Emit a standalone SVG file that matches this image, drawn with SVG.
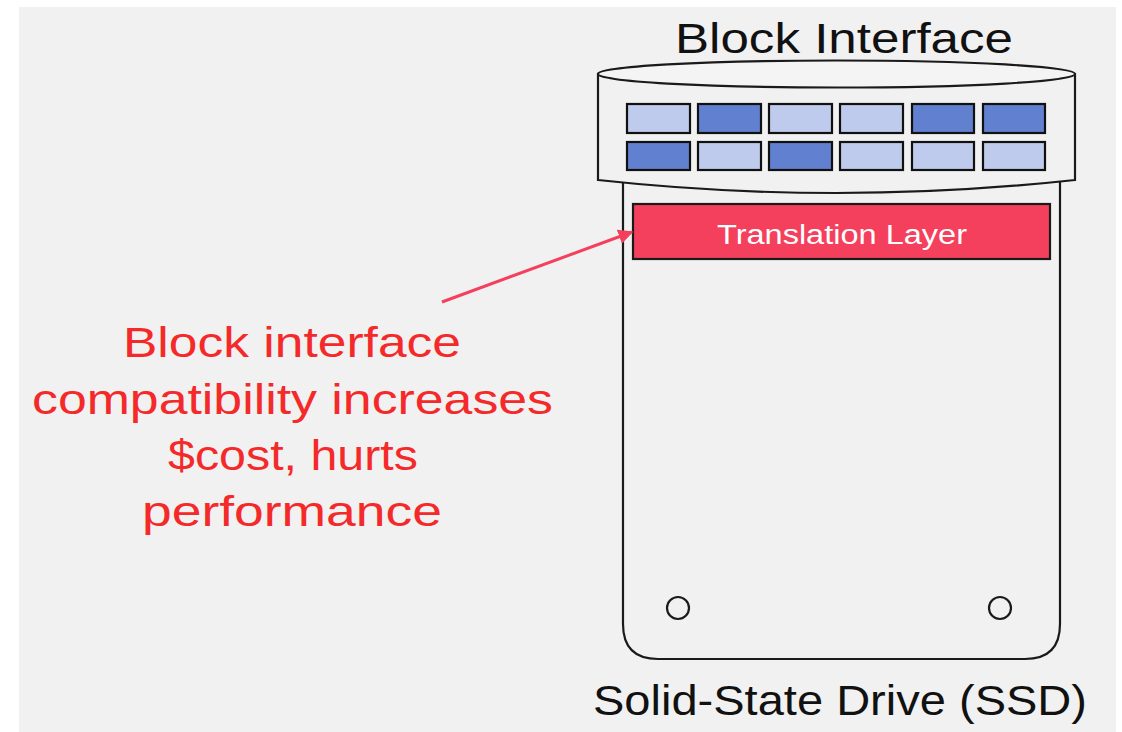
<svg xmlns="http://www.w3.org/2000/svg" width="1122" height="732" viewBox="0 0 1122 732">
<style>
.outline{fill:none;stroke:#1a1a1a;stroke-width:2.2}
.blk{stroke:#111;stroke-width:2.2}
.lt{fill:#BFCBEC}
.dk{fill:#6180D0}
.title{font-family:"Liberation Sans",Arial,sans-serif;font-size:42px;fill:#111}
.note{font-family:"Liberation Sans",Arial,sans-serif;font-size:42px;fill:#F42A2A}
.tl{font-family:"Liberation Sans",Arial,sans-serif;font-size:27px;fill:#fff}
</style>
<defs>
<marker id="ah" viewBox="0 0 10 10" refX="9" refY="5" markerWidth="5" markerHeight="5" markerUnits="strokeWidth" orient="auto">
<path d="M0,0 L10,5 L0,10 z" fill="#F4405C"/>
</marker>
</defs>
<rect x="0" y="0" width="1122" height="732" fill="#ffffff"/>
<rect x="19" y="7" width="1097" height="725" fill="#F1F1F1"/>
<g id="ssd">
<path class="outline" d="M623,180 L623,624 Q623,659 658,659 L1025,659 Q1060,659 1060,624 L1060,180" fill="#F1F1F1"/>
<circle class="outline" cx="678" cy="608" r="11"/>
<circle class="outline" cx="1000" cy="608" r="11"/>
<text class="title" x="840" y="715" text-anchor="middle" textLength="494" lengthAdjust="spacingAndGlyphs">Solid-State Drive (SSD)</text>
</g>
<g id="block-interface">
<path d="M598,74 L598,180 Q836,206 1075,180 L1075,74 Z" fill="#F1F1F1" stroke="#1a1a1a" stroke-width="2.2"/>
<ellipse cx="836.5" cy="74" rx="238.5" ry="13.5" fill="#F4F4F4" stroke="#1a1a1a" stroke-width="2.2"/>
<rect class="blk lt" x="627" y="104" width="63" height="29"/>
<rect class="blk dk" x="698" y="104" width="63" height="29"/>
<rect class="blk lt" x="769" y="104" width="63" height="29"/>
<rect class="blk lt" x="840" y="104" width="63" height="29"/>
<rect class="blk dk" x="912" y="104" width="62" height="29"/>
<rect class="blk dk" x="983" y="104" width="62" height="29"/>
<rect class="blk dk" x="627" y="142" width="63" height="28"/>
<rect class="blk lt" x="698" y="142" width="63" height="28"/>
<rect class="blk dk" x="769" y="142" width="63" height="28"/>
<rect class="blk lt" x="840" y="142" width="63" height="28"/>
<rect class="blk lt" x="912" y="142" width="62" height="28"/>
<rect class="blk lt" x="983" y="142" width="62" height="28"/>
<text class="title" x="844" y="53" text-anchor="middle" textLength="338" lengthAdjust="spacingAndGlyphs">Block Interface</text>
</g>
<g id="translation-layer">
<rect x="633" y="204" width="417" height="55" fill="#F4405C" stroke="#1a1a1a" stroke-width="2.2"/>
<text class="tl" x="842" y="244" text-anchor="middle" textLength="250" lengthAdjust="spacingAndGlyphs">Translation Layer</text>
</g>
<g id="note">
<text class="note" x="292" y="357" text-anchor="middle" textLength="338" lengthAdjust="spacingAndGlyphs">Block interface</text>
<text class="note" x="292.5" y="414" text-anchor="middle" textLength="521" lengthAdjust="spacingAndGlyphs">compatibility increases</text>
<text class="note" x="293" y="470" text-anchor="middle" textLength="250" lengthAdjust="spacingAndGlyphs">$cost, hurts</text>
<text class="note" x="292" y="526" text-anchor="middle" textLength="300" lengthAdjust="spacingAndGlyphs">performance</text>
</g>
<g id="connectors">
<line x1="442" y1="302" x2="632" y2="232" stroke="#F4405C" stroke-width="3" marker-end="url(#ah)"/>
</g>
</svg>
